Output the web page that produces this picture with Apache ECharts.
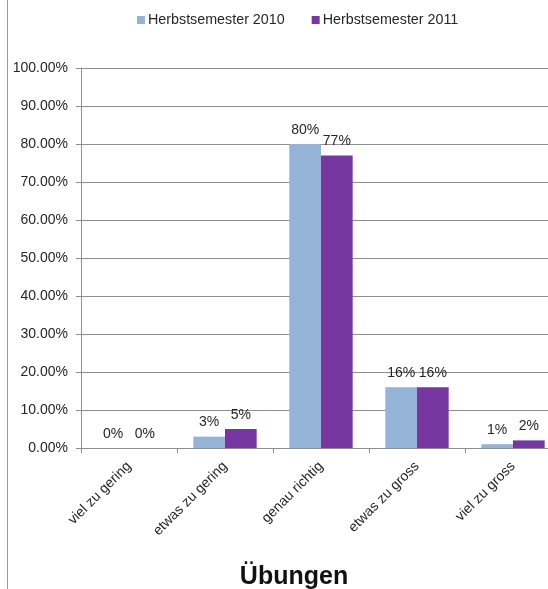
<!DOCTYPE html>
<html>
<head>
<meta charset="utf-8">
<title>Übungen</title>
<script src="https://cdn.jsdelivr.net/npm/echarts@6/dist/echarts.min.js"></script>
<style>
  html, body { margin: 0; padding: 0; background: #fff; }
  #frame { position: relative; width: 548px; height: 589px; overflow: hidden; }
  #edge { position: absolute; left: 7px; top: 0; width: 1px; height: 589px; background: #9a9a9a; }
  #chart { position: absolute; left: 0; top: 0; width: 562px; height: 589px; }
</style>
</head>
<body>
<div id="frame">
  <div id="chart"></div>
  <div id="edge"></div>
</div>
<script>
// Survey answers for the "Übungen" question, in percent
const categories = ['viel zu gering', 'etwas zu gering', 'genau richtig', 'etwas zu gross', 'viel zu gross'];
const seriesNames = ['Herbstsemester 2010', 'Herbstsemester 2011'];
const values2010 = [0, 3, 80, 16, 1];
const values2011 = [0, 5, 77, 16, 2];
const yTicks = [0, 10, 20, 30, 40, 50, 60, 70, 80, 90, 100];

const FONT = 'Liberation Sans, Arial, sans-serif';
const TEXT = '#262626';
const LINE = '#8e8e8e';

const chart = echarts.init(document.getElementById('chart'));

function barSeries(name, data, color) {
  return {
    name: name,
    type: 'bar',
    data: data,
    barGap: '0%',
    barCategoryGap: '34%',
    itemStyle: { color: color },
    label: {
      show: true,
      position: 'top',
      distance: 7,
      color: TEXT,
      fontFamily: FONT,
      fontSize: 14,
      formatter: p => Math.round(p.value) + '%'
    }
  };
}

chart.setOption({
  animation: false,
  textStyle: { fontFamily: FONT },
  title: {
    text: 'Übungen',
    left: 289,
    top: 560,
    textAlign: 'center',
    textStyle: { fontFamily: FONT, fontSize: 25, fontWeight: 'bold', color: '#111' }
  },
  legend: {
    data: seriesNames,
    top: 8,
    left: 132,
    itemWidth: 8,
    itemHeight: 8,
    itemGap: 27,
    icon: 'rect',
    textStyle: { fontFamily: FONT, fontSize: 14.3, color: TEXT, padding: [0, 0, 0, -2] }
  },
  grid: { left: 81, right: 1, top: 68, bottom: 141, containLabel: false },
  xAxis: {
    type: 'category',
    data: categories,
    axisLine: { lineStyle: { color: LINE, width: 1 } },
    axisTick: { show: true, length: 5, lineStyle: { color: LINE } },
    axisLabel: { rotate: 45, margin: 16, color: TEXT, fontFamily: FONT, fontSize: 14, interval: 0 }
  },
  yAxis: {
    type: 'value',
    min: yTicks[0],
    max: yTicks[yTicks.length - 1],
    interval: yTicks[1] - yTicks[0],
    axisLine: { show: true, lineStyle: { color: LINE, width: 1 } },
    axisTick: { show: true, length: 5, lineStyle: { color: LINE } },
    splitLine: { show: true, lineStyle: { color: LINE, width: 1 } },
    axisLabel: { margin: 13, color: TEXT, fontFamily: FONT, fontSize: 14, formatter: v => v.toFixed(2) + '%' }
  },
  series: [
    barSeries(seriesNames[0], values2010, '#95b3d7'),
    barSeries(seriesNames[1], values2011, '#7638a0')
  ]
});
</script>
</body>
</html>
